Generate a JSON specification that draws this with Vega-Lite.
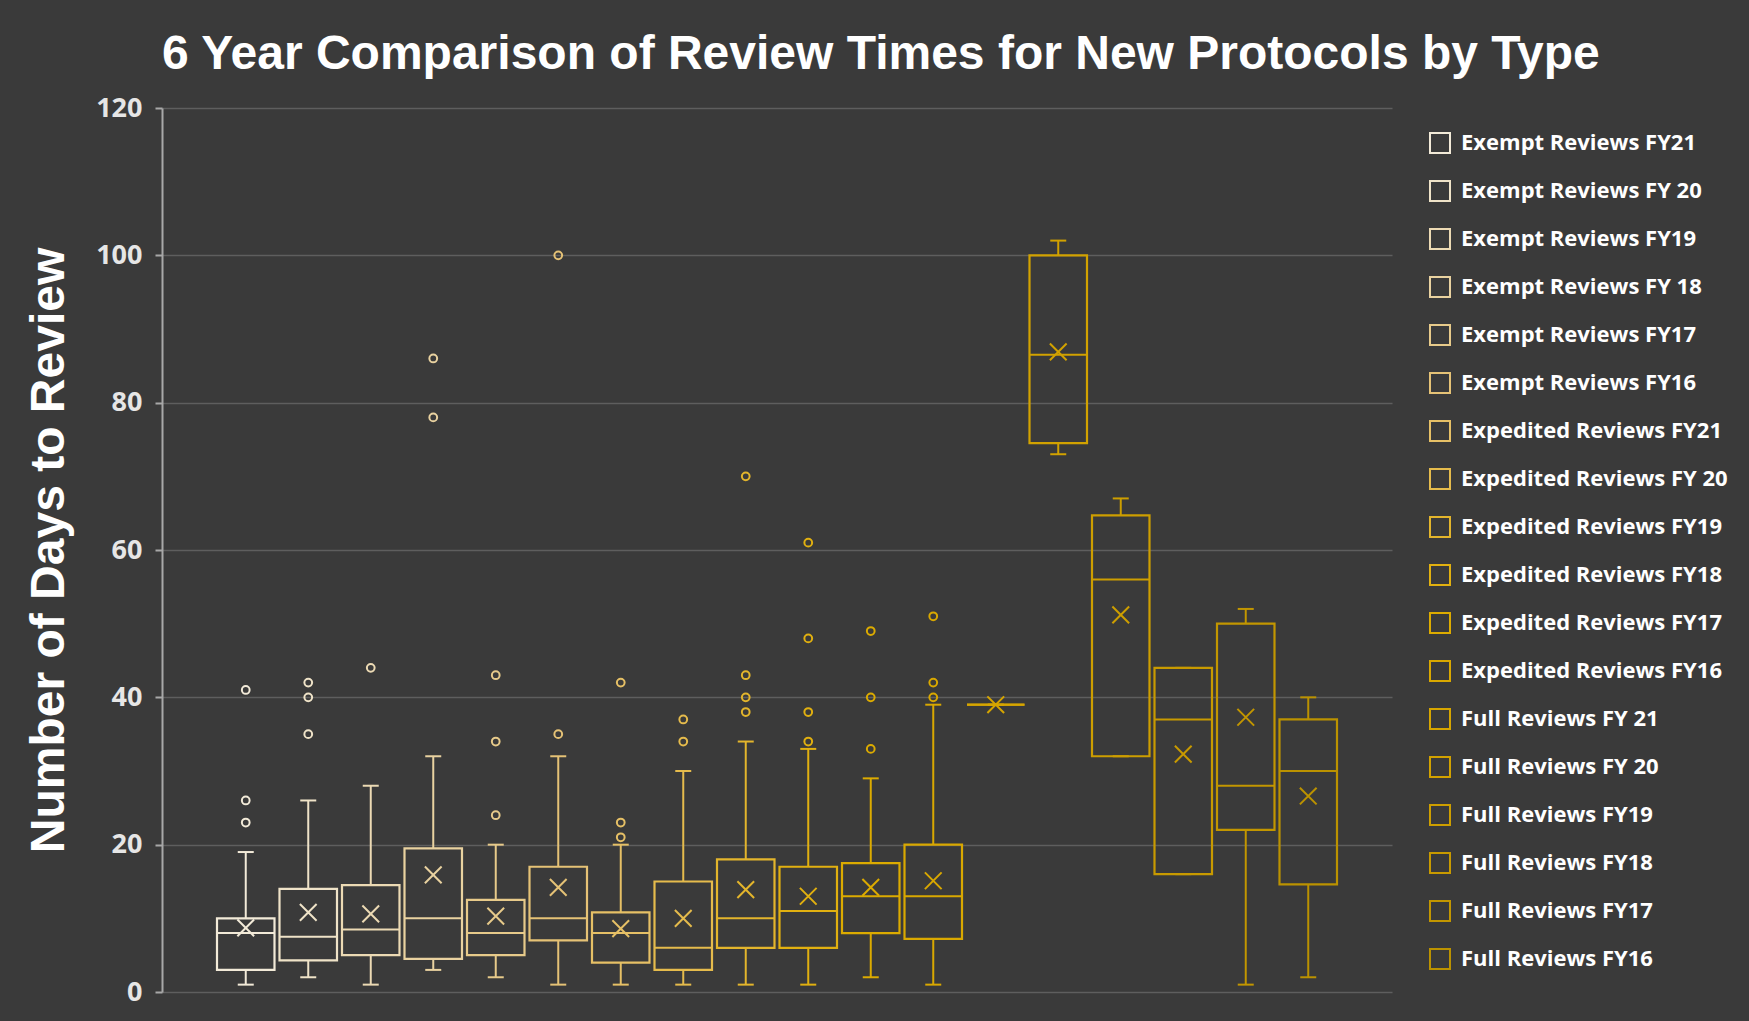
{
  "$schema": "https://vega.github.io/schema/vega-lite/v6.json",
  "autosize": "none",
  "width": 1230,
  "height": 884,
  "padding": {"left": 162, "top": 108, "right": 357, "bottom": 29},
  "background": "#3a3a3a",
  "title": {
    "text": "6 Year Comparison of Review Times for New Protocols by Type",
    "anchor": "start",
    "frame": "group",
    "offset": 15
  },
  "datasets": {
    "boxes": [
      {"series": "Exempt Reviews FY21", "min": 1, "q1": 3, "median": 8, "q3": 10, "max": 19, "mean": 8.7},
      {"series": "Exempt Reviews FY 20", "min": 2, "q1": 4.3, "median": 7.5, "q3": 14, "max": 26, "mean": 10.8},
      {"series": "Exempt Reviews FY19", "min": 1, "q1": 5, "median": 8.5, "q3": 14.5, "max": 28, "mean": 10.6},
      {"series": "Exempt Reviews FY 18", "min": 3, "q1": 4.5, "median": 10, "q3": 19.5, "max": 32, "mean": 15.9},
      {"series": "Exempt Reviews FY17", "min": 2, "q1": 5, "median": 8, "q3": 12.5, "max": 20, "mean": 10.3},
      {"series": "Exempt Reviews FY16", "min": 1, "q1": 7, "median": 10, "q3": 17, "max": 32, "mean": 14.2},
      {"series": "Expedited Reviews FY21", "min": 1, "q1": 4, "median": 8, "q3": 10.8, "max": 20, "mean": 8.6},
      {"series": "Expedited Reviews FY 20", "min": 1, "q1": 3, "median": 6, "q3": 15, "max": 30, "mean": 10},
      {"series": "Expedited Reviews FY19", "min": 1, "q1": 6, "median": 10, "q3": 18, "max": 34, "mean": 13.9},
      {"series": "Expedited Reviews FY18", "min": 1, "q1": 6, "median": 11, "q3": 17, "max": 33, "mean": 13},
      {"series": "Expedited Reviews FY17", "min": 2, "q1": 8, "median": 13, "q3": 17.5, "max": 29, "mean": 14.2},
      {"series": "Expedited Reviews FY16", "min": 1, "q1": 7.2, "median": 13, "q3": 20, "max": 39, "mean": 15.1},
      {"series": "Full Reviews FY 21", "min": 39, "q1": 39, "median": 39, "q3": 39, "max": 39, "mean": 39},
      {"series": "Full Reviews FY 20", "min": 73, "q1": 74.5, "median": 86.5, "q3": 100, "max": 102, "mean": 86.9},
      {"series": "Full Reviews FY19", "min": 32, "q1": 32, "median": 56, "q3": 64.7, "max": 67, "mean": 51.2},
      {"series": "Full Reviews FY18", "min": 16, "q1": 16, "median": 37, "q3": 44, "max": 44, "mean": 32.3},
      {"series": "Full Reviews FY17", "min": 1, "q1": 22, "median": 28, "q3": 50, "max": 52, "mean": 37.3},
      {"series": "Full Reviews FY16", "min": 2, "q1": 14.6, "median": 30, "q3": 37, "max": 40, "mean": 26.6}
    ],
    "outliers": [
      {"series": "Exempt Reviews FY21", "value": 23},
      {"series": "Exempt Reviews FY21", "value": 26},
      {"series": "Exempt Reviews FY21", "value": 41},
      {"series": "Exempt Reviews FY 20", "value": 35},
      {"series": "Exempt Reviews FY 20", "value": 40},
      {"series": "Exempt Reviews FY 20", "value": 42},
      {"series": "Exempt Reviews FY19", "value": 44},
      {"series": "Exempt Reviews FY 18", "value": 78},
      {"series": "Exempt Reviews FY 18", "value": 86},
      {"series": "Exempt Reviews FY17", "value": 24},
      {"series": "Exempt Reviews FY17", "value": 34},
      {"series": "Exempt Reviews FY17", "value": 43},
      {"series": "Exempt Reviews FY16", "value": 35},
      {"series": "Exempt Reviews FY16", "value": 100},
      {"series": "Expedited Reviews FY21", "value": 21},
      {"series": "Expedited Reviews FY21", "value": 23},
      {"series": "Expedited Reviews FY21", "value": 42},
      {"series": "Expedited Reviews FY 20", "value": 34},
      {"series": "Expedited Reviews FY 20", "value": 37},
      {"series": "Expedited Reviews FY19", "value": 38},
      {"series": "Expedited Reviews FY19", "value": 40},
      {"series": "Expedited Reviews FY19", "value": 43},
      {"series": "Expedited Reviews FY19", "value": 70},
      {"series": "Expedited Reviews FY18", "value": 34},
      {"series": "Expedited Reviews FY18", "value": 38},
      {"series": "Expedited Reviews FY18", "value": 48},
      {"series": "Expedited Reviews FY18", "value": 61},
      {"series": "Expedited Reviews FY17", "value": 33},
      {"series": "Expedited Reviews FY17", "value": 40},
      {"series": "Expedited Reviews FY17", "value": 49},
      {"series": "Expedited Reviews FY16", "value": 40},
      {"series": "Expedited Reviews FY16", "value": 42},
      {"series": "Expedited Reviews FY16", "value": 51}
    ]
  },
  "encoding": {
    "x": {
      "field": "series",
      "type": "nominal",
      "sort": null,
      "axis": null,
      "scale": {
        "type": "band",
        "paddingInner": 0.08,
        "paddingOuter": 0.88,
        "domain": ["Exempt Reviews FY21", "Exempt Reviews FY 20", "Exempt Reviews FY19", "Exempt Reviews FY 18", "Exempt Reviews FY17", "Exempt Reviews FY16", "Expedited Reviews FY21", "Expedited Reviews FY 20", "Expedited Reviews FY19", "Expedited Reviews FY18", "Expedited Reviews FY17", "Expedited Reviews FY16", "Full Reviews FY 21", "Full Reviews FY 20", "Full Reviews FY19", "Full Reviews FY18", "Full Reviews FY17", "Full Reviews FY16"]
      }
    },
    "color": {
      "field": "series",
      "type": "nominal",
      "legend": {"title": null, "symbolType": "square"},
      "scale": {
        "domain": ["Exempt Reviews FY21", "Exempt Reviews FY 20", "Exempt Reviews FY19", "Exempt Reviews FY 18", "Exempt Reviews FY17", "Exempt Reviews FY16", "Expedited Reviews FY21", "Expedited Reviews FY 20", "Expedited Reviews FY19", "Expedited Reviews FY18", "Expedited Reviews FY17", "Expedited Reviews FY16", "Full Reviews FY 21", "Full Reviews FY 20", "Full Reviews FY19", "Full Reviews FY18", "Full Reviews FY17", "Full Reviews FY16"],
        "range": ["#f2ead8", "#efe3c8", "#ecdab4", "#e9d2a0", "#e7ca8a", "#e5c276", "#e6c066", "#e5bb4c", "#e3b52c", "#e1b010", "#dcab00", "#d9a800", "#d6a500", "#d2a200", "#cd9e00", "#c89a00", "#c29600", "#bb9200"]
      }
    }
  },
  "layer": [
    {
      "data": {"name": "boxes"},
      "mark": {"type": "bar", "filled": false, "strokeWidth": 2.2},
      "encoding": {
        "y": {"field": "q1", "type": "quantitative", "title": "Number of Days to Review", "scale": {"domain": [0, 120], "nice": false}},
        "y2": {"field": "q3"}
      }
    },
    {
      "data": {"name": "boxes"},
      "mark": {"type": "rule", "strokeWidth": 2},
      "encoding": {
        "y": {"field": "min", "type": "quantitative", "title": "Number of Days to Review", "scale": {"domain": [0, 120], "nice": false}},
        "y2": {"field": "q1"}
      }
    },
    {
      "data": {"name": "boxes"},
      "mark": {"type": "rule", "strokeWidth": 2},
      "encoding": {
        "y": {"field": "q3", "type": "quantitative", "title": "Number of Days to Review", "scale": {"domain": [0, 120], "nice": false}},
        "y2": {"field": "max"}
      }
    },
    {
      "data": {"name": "boxes"},
      "mark": {"type": "rule", "strokeWidth": 2, "xOffset": -8, "x2Offset": 8},
      "encoding": {
        "x2": {"field": "series"},
        "y": {"field": "min", "type": "quantitative", "title": "Number of Days to Review", "scale": {"domain": [0, 120], "nice": false}}
      }
    },
    {
      "data": {"name": "boxes"},
      "mark": {"type": "rule", "strokeWidth": 2, "xOffset": -8, "x2Offset": 8},
      "encoding": {
        "x2": {"field": "series"},
        "y": {"field": "max", "type": "quantitative", "title": "Number of Days to Review", "scale": {"domain": [0, 120], "nice": false}}
      }
    },
    {
      "data": {"name": "boxes"},
      "mark": {"type": "rule", "strokeWidth": 2, "xOffset": -28.7, "x2Offset": 28.7},
      "encoding": {
        "x2": {"field": "series"},
        "y": {"field": "median", "type": "quantitative", "title": "Number of Days to Review", "scale": {"domain": [0, 120], "nice": false}}
      }
    },
    {
      "data": {"name": "boxes"},
      "mark": {"type": "point", "shape": "M-1,-1L1,1M-1,1L1,-1", "filled": false, "size": 280, "strokeWidth": 2, "opacity": 1},
      "encoding": {
        "y": {"field": "mean", "type": "quantitative", "title": "Number of Days to Review", "scale": {"domain": [0, 120], "nice": false}}
      }
    },
    {
      "data": {"name": "outliers"},
      "mark": {"type": "point", "shape": "circle", "filled": false, "size": 60, "strokeWidth": 2, "opacity": 1},
      "encoding": {
        "y": {"field": "value", "type": "quantitative", "title": "Number of Days to Review", "scale": {"domain": [0, 120], "nice": false}}
      }
    }
  ],
  "config": {
    "view": {"stroke": null},
    "title": {
      "font": "Liberation Sans",
      "fontSize": 48,
      "fontWeight": "bold",
      "color": "#ffffff"
    },
    "axis": {
      "tickCount": 6,
      "labelFont": "Open Sans",
      "labelFontSize": 27,
      "labelFontWeight": "bold",
      "labelColor": "#e6e6e6",
      "labelPadding": 13,
      "domainColor": "#a8a8a8",
      "domainWidth": 2,
      "tickColor": "#a8a8a8",
      "tickWidth": 2,
      "tickSize": 7,
      "gridColor": "#5e5e5e",
      "gridWidth": 1.5,
      "titleFont": "Liberation Sans",
      "titleFontSize": 48,
      "titleFontWeight": "bold",
      "titleColor": "#ffffff",
      "titlePadding": 22
    },
    "legend": {
      "orient": "right",
      "offset": 13,
      "padding": 24,
      "labelFont": "Open Sans",
      "labelFontSize": 22,
      "labelFontWeight": "bold",
      "labelColor": "#ffffff",
      "labelLimit": 400,
      "labelOffset": 10,
      "symbolSize": 400,
      "symbolStrokeWidth": 2,
      "symbolFillColor": "transparent",
      "rowPadding": 20
    }
  }
}
